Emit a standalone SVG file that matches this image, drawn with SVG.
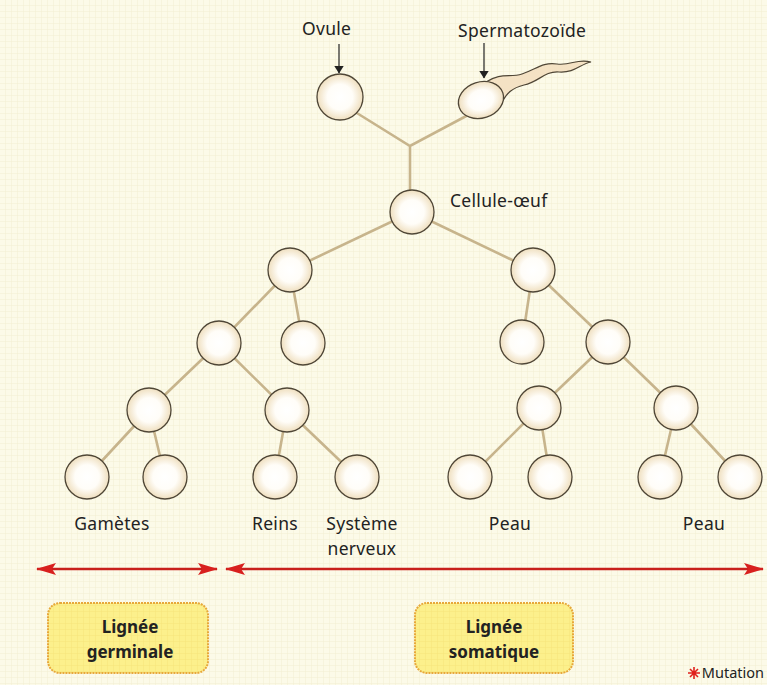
<svg xmlns="http://www.w3.org/2000/svg" width="767" height="685" viewBox="0 0 767 685">
<defs>
<radialGradient id="cg" cx="50%" cy="50%" r="50%">
<stop offset="0" stop-color="#ffffff"/>
<stop offset="0.55" stop-color="#fffdf8"/>
<stop offset="1" stop-color="#efdfbf"/>
</radialGradient>
<pattern id="grid" width="6" height="6" patternUnits="userSpaceOnUse">
<rect width="6" height="6" fill="#fcfae8"/>
<path d="M6 0V6M0 6H6" stroke="#f3eed2" stroke-width="1"/>
</pattern>
<pattern id="bgrid" width="6" height="6" patternUnits="userSpaceOnUse">
<rect width="6" height="6" fill="#fcf08c"/>
<path d="M6 0V6M0 6H6" stroke="#f6e57a" stroke-width="1"/>
</pattern>
<marker id="ah" viewBox="0 0 20 12" refX="19" refY="6" markerWidth="20" markerHeight="12" markerUnits="userSpaceOnUse" orient="auto-start-reverse">
<path d="M0 0L20 6L0 12L4 6Z" fill="#d8201e"/>
</marker>
<marker id="sa" viewBox="0 0 8 10" refX="7.5" refY="5" markerWidth="8" markerHeight="10" markerUnits="userSpaceOnUse" orient="auto">
<path d="M0 0L8 5L0 10Z" fill="#222"/>
</marker>
</defs>
<style>
.cell{fill:url(#cg);stroke:#4f4636;stroke-width:1.3}
.lk{stroke:#c7b48c;stroke-width:2.6;fill:none;stroke-linecap:round}
.t{font-family:"Noto Sans","Liberation Sans",sans-serif;font-size:17.5px;fill:#222;letter-spacing:0.3px}
.s{font-family:"Noto Sans","Liberation Sans",sans-serif;font-size:14.5px;fill:#222;text-anchor:end}
.b{font-family:"Noto Sans","Liberation Sans",sans-serif;font-size:17px;font-weight:bold;fill:#222;text-anchor:middle}
.red{stroke:#c8201c;stroke-width:2.4;fill:none}
.box{fill:url(#bgrid);stroke:#e7a83a;stroke-width:2;stroke-dasharray:2 1}
</style>
<rect width="767" height="685" fill="url(#grid)"/>

<g id="connectors">
<path class="lk" d="M352 110L410 146L470 114M410 146V190"/>
<path class="lk" d="M412 212L290 270M412 212L533 270"/>
<path class="lk" d="M290 270L219 343M290 270L303 343"/>
<path class="lk" d="M219 343L149 410M219 343L287 410"/>
<path class="lk" d="M149 410L87 477M149 410L165 477"/>
<path class="lk" d="M287 410L275 477M287 410L357 477"/>
<path class="lk" d="M533 270L522 342M533 270L608 342"/>
<path class="lk" d="M608 342L539 408M608 342L676 408"/>
<path class="lk" d="M539 408L470 477M539 408L550 477"/>
<path class="lk" d="M676 408L660 477M676 408L740 477"/>
<line x1="339" y1="44" x2="339" y2="73" stroke="#222" stroke-width="1.2" marker-end="url(#sa)"/>
<line x1="484" y1="43" x2="484" y2="78" stroke="#222" stroke-width="1.2" marker-end="url(#sa)"/>
<line class="red" x1="37" y1="569" x2="217" y2="569" marker-start="url(#ah)" marker-end="url(#ah)"/>
<line class="red" x1="226" y1="569" x2="763" y2="569" marker-start="url(#ah)" marker-end="url(#ah)"/>
</g>

<g id="ovule">
<circle class="cell" cx="340" cy="97" r="23"/>
<text class="t" x="302" y="35">Ovule</text>
</g>
<g id="spermatozoide">
<path d="M486 82C501 72 510 78 522 74C537 69 542 62 557 64C571 66 577 58 591 62C580 64 575 73 559 72C544 71 539 82 524 85C512 88 507 93 502 102Z" fill="#f4e2c4" stroke="#4f4636" stroke-width="1.2"/>
<ellipse class="cell" cx="481" cy="100" rx="23" ry="18" transform="rotate(-18 481 100)"/>
<text class="t" x="458" y="37">Spermatozoïde</text>
</g>
<g id="cellule-oeuf">
<circle class="cell" cx="412" cy="212" r="22"/>
<text class="t" x="450" y="207">Cellule-œuf</text>
</g>
<g id="n2a"><circle class="cell" cx="290" cy="270" r="22"/></g>
<g id="n2b"><circle class="cell" cx="533" cy="270" r="22"/></g>
<g id="n3a"><circle class="cell" cx="219" cy="343" r="22"/></g>
<g id="n3b"><circle class="cell" cx="303" cy="343" r="22"/></g>
<g id="n3c"><circle class="cell" cx="522" cy="342" r="22"/></g>
<g id="n3d"><circle class="cell" cx="608" cy="342" r="22"/></g>
<g id="n4a"><circle class="cell" cx="149" cy="410" r="22"/></g>
<g id="n4b"><circle class="cell" cx="287" cy="410" r="22"/></g>
<g id="n4c"><circle class="cell" cx="539" cy="408" r="22"/></g>
<g id="n4d"><circle class="cell" cx="676" cy="408" r="22"/></g>
<g id="gametes">
<circle class="cell" cx="87" cy="477" r="22"/>
<circle class="cell" cx="165" cy="477" r="22"/>
<text class="t" x="112" y="530" text-anchor="middle">Gamètes</text>
</g>
<g id="reins">
<circle class="cell" cx="275" cy="477" r="22"/>
<text class="t" x="275" y="530" text-anchor="middle">Reins</text>
</g>
<g id="systeme-nerveux">
<circle class="cell" cx="357" cy="477" r="22"/>
<text class="t" x="362" y="530" text-anchor="middle">Système</text>
<text class="t" x="362" y="555" text-anchor="middle">nerveux</text>
</g>
<g id="peau1">
<circle class="cell" cx="470" cy="477" r="22"/>
<circle class="cell" cx="550" cy="477" r="22"/>
<text class="t" x="510" y="530" text-anchor="middle">Peau</text>
</g>
<g id="peau2">
<circle class="cell" cx="660" cy="477" r="22"/>
<circle class="cell" cx="740" cy="477" r="22"/>
<text class="t" x="704" y="530" text-anchor="middle">Peau</text>
</g>
<g id="lignee-germinale">
<rect class="box" x="48" y="603" width="160" height="70" rx="12"/>
<text class="b" x="130" y="633">Lignée</text>
<text class="b" x="130" y="658">germinale</text>
</g>
<g id="lignee-somatique">
<rect class="box" x="415" y="603" width="158" height="70" rx="12"/>
<text class="b" x="494" y="633">Lignée</text>
<text class="b" x="494" y="658">somatique</text>
</g>
<g id="legende">
<g stroke="#e0201c" stroke-width="1.6">
<path d="M688 673H700M694 667V679M690 669L698 677M698 669L690 677"/>
</g>
<text class="s" x="764" y="678">Mutation</text>
</g>
</svg>
